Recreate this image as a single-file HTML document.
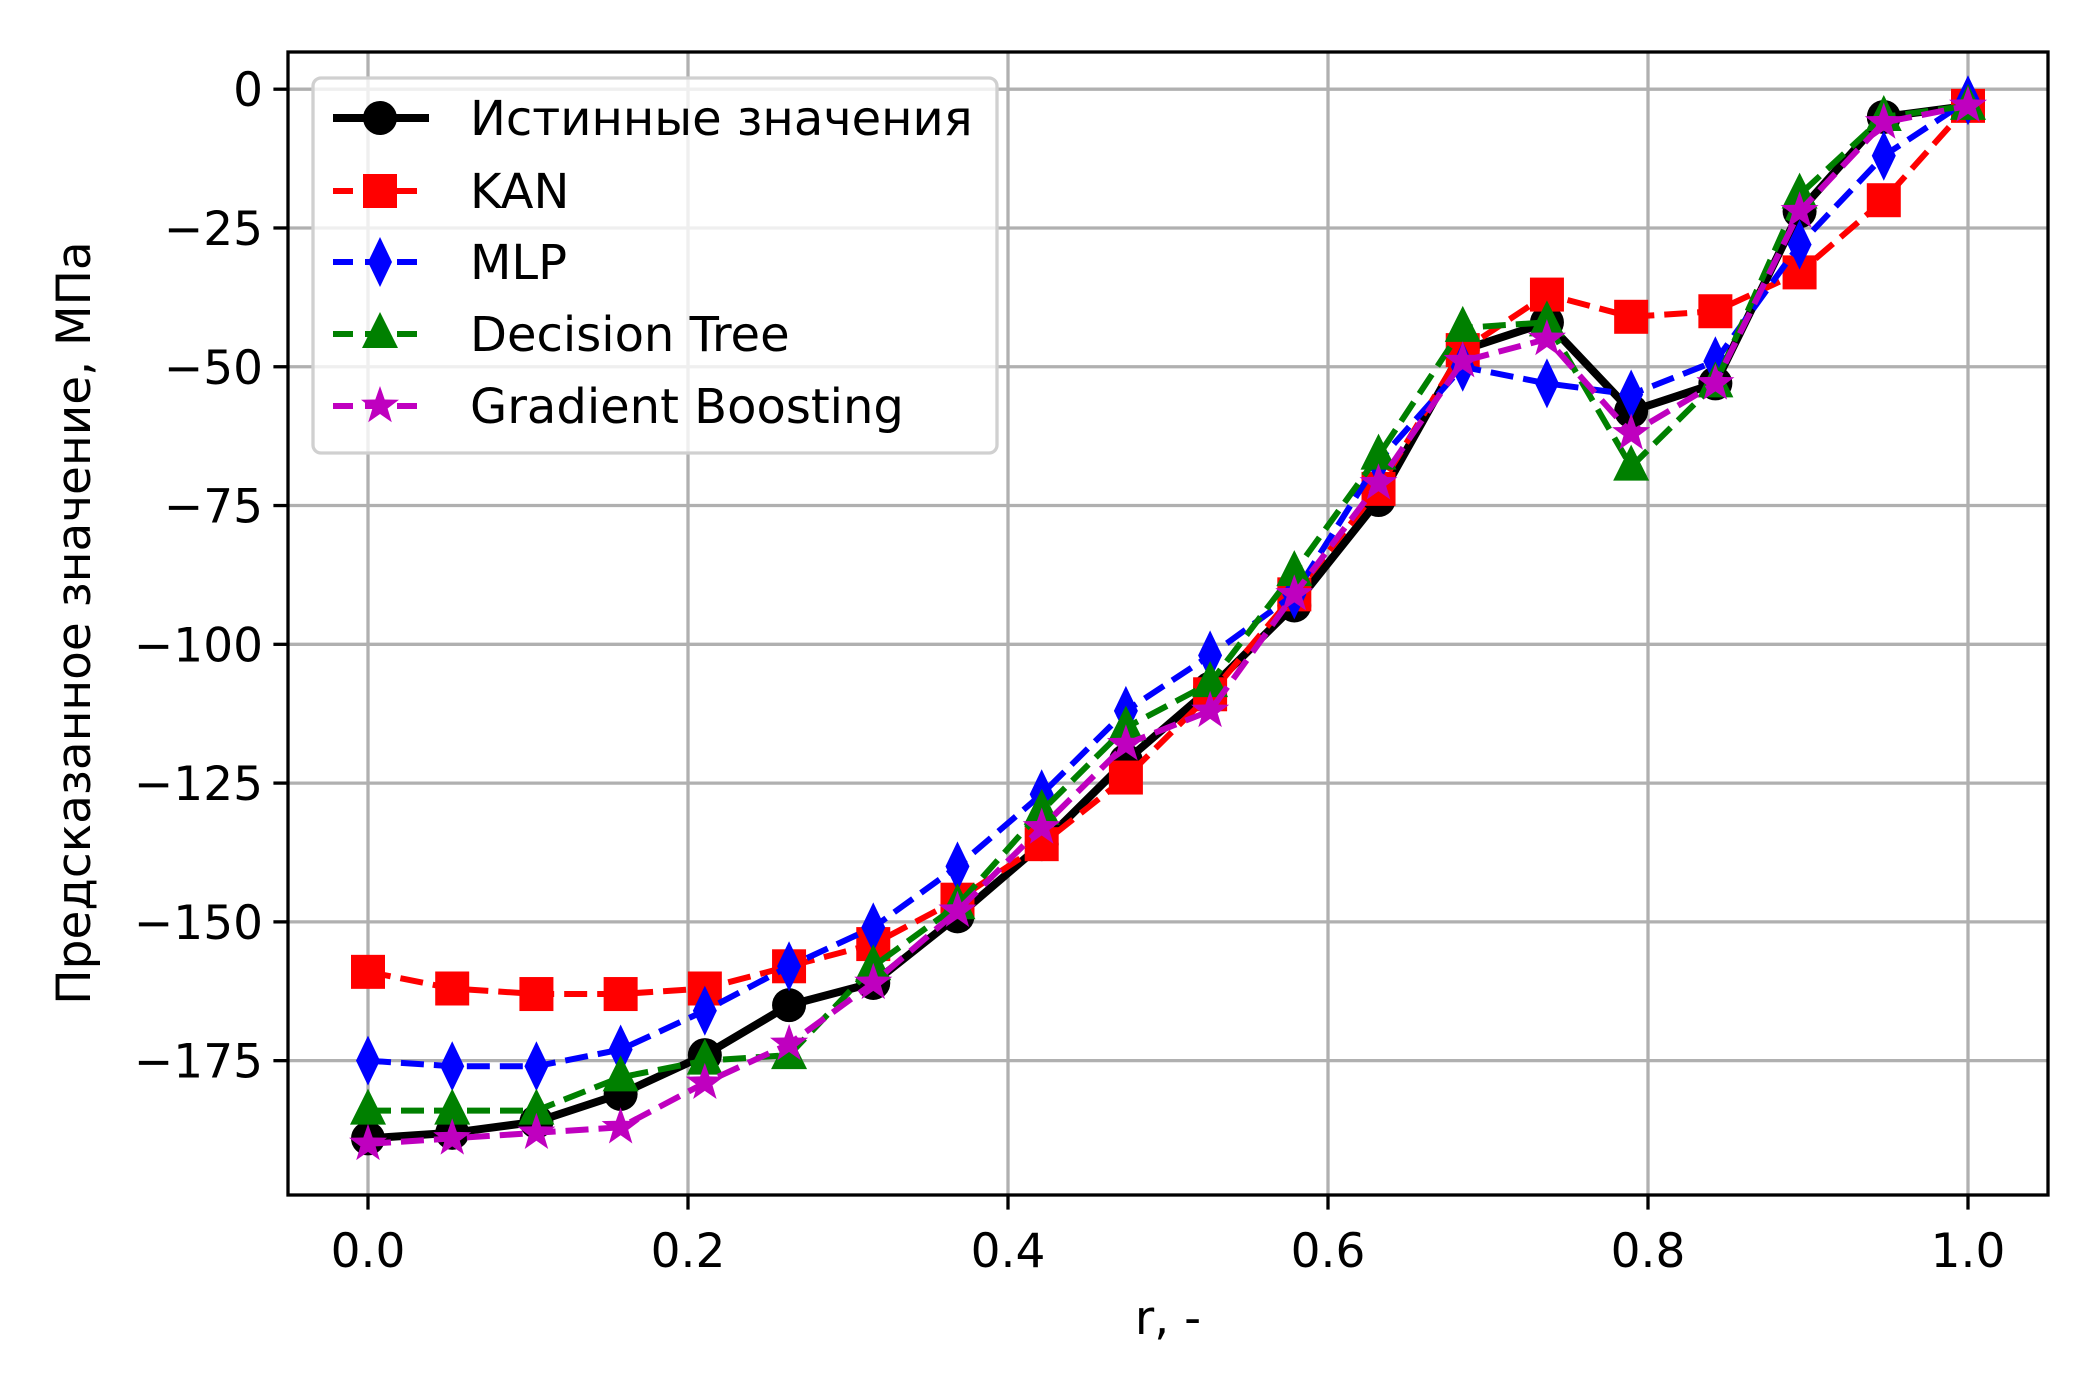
<!DOCTYPE html>
<html><head><meta charset="utf-8"><style>
html,body{margin:0;padding:0;background:#fff;}
svg{display:block;}
text{font-family:"DejaVu Sans","Liberation Sans",sans-serif;fill:#000;}
</style></head><body>
<svg id="chart" width="2100" height="1400" viewBox="0 0 2100 1400" xmlns="http://www.w3.org/2000/svg">
<rect x="0" y="0" width="2100" height="1400" fill="#fff"/>
<g id="grid"></g>
<g id="series"></g>
<rect x="288" y="52" width="1760" height="1143" fill="none" stroke="#000" stroke-width="3.3"/>
<g id="ticks"></g>
<text x="1168" y="1334" font-size="47" text-anchor="middle">r, -</text>
<text transform="translate(90,623) rotate(-90)" font-size="47" text-anchor="middle">Предсказанное значение, МПа</text>
<g id="legend"></g>
</svg>
<script>
const xTicks = [0.0, 0.2, 0.4, 0.6, 0.8, 1.0];
const xTickLabels = ["0.0", "0.2", "0.4", "0.6", "0.8", "1.0"];
const yTicks = [0, -25, -50, -75, -100, -125, -150, -175];
const yTickLabels = ["0", "\u221225", "\u221250", "\u221275", "\u2212100", "\u2212125", "\u2212150", "\u2212175"];
const rValues = [0, 1/19, 2/19, 3/19, 4/19, 5/19, 6/19, 7/19, 8/19, 9/19, 10/19, 11/19, 12/19, 13/19, 14/19, 15/19, 16/19, 17/19, 18/19, 1];
const trueVals = [-189, -188, -186, -181, -174, -165, -161, -149, -136, -121, -108, -93, -74, -47, -42, -58, -53, -22, -5, -3];
const kanVals = [-159, -162, -163, -163, -162, -158, -154, -146, -136, -124, -109, -91, -72, -47, -37, -41, -40, -33, -20, -3];
const mlpVals = [-175, -176, -176, -173, -166, -158, -151, -140, -127, -112, -102, -91, -67, -50, -53, -55, -49, -28, -12, -2];
const dtVals = [-184, -184, -184, -178, -175, -174, -158, -147, -130, -115, -107, -87, -66, -43, -42, -68, -53, -19, -5, -3];
const gbVals = [-190, -189, -188, -187, -179, -172, -161, -148, -133, -118, -112, -91, -71, -49, -45, -62, -53, -22, -6, -3];
const seriesNames = ["Истинные значения", "KAN", "MLP", "Decision Tree", "Gradient Boosting"];

const NS = "http://www.w3.org/2000/svg";
const X0 = 288, X1 = 2048, Y0 = 52, Y1 = 1195;
const xMin = -0.05, xMax = 1.05, yMin = -199.2, yMax = 6.7;
function sx(v){ return X0 + (v - xMin) / (xMax - xMin) * (X1 - X0); }
function sy(v){ return Y1 - (v - yMin) / (yMax - yMin) * (Y1 - Y0); }
function mk(tag, attrs, parent){ const e = document.createElementNS(NS, tag); for (const k in attrs) e.setAttribute(k, attrs[k]); parent.appendChild(e); return e; }

const grid = document.getElementById('grid');
const ticks = document.getElementById('ticks');
xTicks.forEach((t, i) => {
  const g = mk('line', {x1: sx(t), x2: sx(t), y1: Y0, y2: Y1, stroke: '#b0b0b0', 'stroke-width': 3.3}, grid);
  
  
  const tk = mk('line', {x1: sx(t), x2: sx(t), y1: Y1, y2: Y1 + 14.6, stroke: '#000', 'stroke-width': 3.3}, ticks);
  
  
  const lb = mk('text', {x: sx(t), y: Y1 + 72, 'font-size': 47, 'text-anchor': 'middle'}, ticks);
  lb.textContent = xTickLabels[i];
  
  
});
yTicks.forEach((t, i) => {
  const g = mk('line', {x1: X0, x2: X1, y1: sy(t), y2: sy(t), stroke: '#b0b0b0', 'stroke-width': 3.3}, grid);
  
  
  const tk = mk('line', {x1: X0 - 14.6, x2: X0, y1: sy(t), y2: sy(t), stroke: '#000', 'stroke-width': 3.3}, ticks);
  
  
  const lb = mk('text', {x: X0 - 25, y: sy(t) + 17, 'font-size': 47, 'text-anchor': 'end'}, ticks);
  lb.textContent = yTickLabels[i];
  
  
});

function marker(type, cx, cy, color, parent){
  let e;
  if (type === 'o') e = mk('circle', {cx: cx, cy: cy, r: 17, fill: color}, parent);
  else if (type === 's') e = mk('rect', {x: cx - 17, y: cy - 17, width: 34, height: 34, fill: color}, parent);
  else if (type === 'd') e = mk('polygon', {points: `${cx},${cy-25} ${cx+12},${cy} ${cx},${cy+25} ${cx-12},${cy}`, fill: color}, parent);
  else if (type === '^') e = mk('polygon', {points: `${cx},${cy-22} ${cx+18},${cy+14} ${cx-18},${cy+14}`, fill: color}, parent);
  else {
    let pts = [];
    for (let k = 0; k < 10; k++) { const a = -Math.PI/2 + k*Math.PI/5; const r = k%2 ? 8 : 20; pts.push((cx + r*Math.cos(a)).toFixed(1) + ',' + (cy + r*Math.sin(a)).toFixed(1)); }
    e = mk('polygon', {points: pts.join(' '), fill: color}, parent);
  }
  return e;
}

const seriesDefs = [
  {vals: trueVals, color: '#000000', m: 'o', dash: null, w: 8, key: 'true-values'},
  {vals: kanVals, color: '#ff0000', m: 's', dash: '23,10', w: 6, key: 'kan'},
  {vals: mlpVals, color: '#0000ff', m: 'd', dash: '23,10', w: 6, key: 'mlp'},
  {vals: dtVals, color: '#008000', m: '^', dash: '23,10', w: 6, key: 'decision-tree'},
  {vals: gbVals, color: '#bf00bf', m: '*', dash: '23,10', w: 6, key: 'gradient-boosting'}
];
const sl = document.getElementById('series');
seriesDefs.forEach(s => {
  const g = mk('g', {}, sl);
  
  
  const pts = s.vals.map((v, i) => sx(rValues[i]).toFixed(1) + ',' + sy(v).toFixed(1)).join(' ');
  const attrs = {points: pts, fill: 'none', stroke: s.color, 'stroke-width': s.w, 'stroke-linejoin': 'round'};
  if (s.dash) attrs['stroke-dasharray'] = s.dash;
  const pl = mk('polyline', attrs, g);
  
  
  s.vals.forEach((v, i) => {
    const m = marker(s.m, sx(rValues[i]), sy(v), s.color, g);
    
    
  });
});

const lg = document.getElementById('legend');
const box = mk('rect', {x: 313, y: 78, width: 684, height: 375, rx: 8, fill: 'rgba(255,255,255,0.8)', stroke: '#d0d0d0', 'stroke-width': 3.3}, lg);


const rowY = [118, 191, 262, 334, 406];
seriesDefs.forEach((s, i) => {
  const g = mk('g', {}, lg);
  
  
  const a = {x1: 333, x2: 429, y1: rowY[i], y2: rowY[i], stroke: s.color, 'stroke-width': s.w};
  if (s.dash) a['stroke-dasharray'] = '20,12';
  mk('line', a, g);
  marker(s.m, 380, rowY[i], s.color, g);
  const t = mk('text', {x: 470, y: rowY[i] + 17, 'font-size': 48}, g);
  t.textContent = seriesNames[i];
});
</script>
</body></html>
